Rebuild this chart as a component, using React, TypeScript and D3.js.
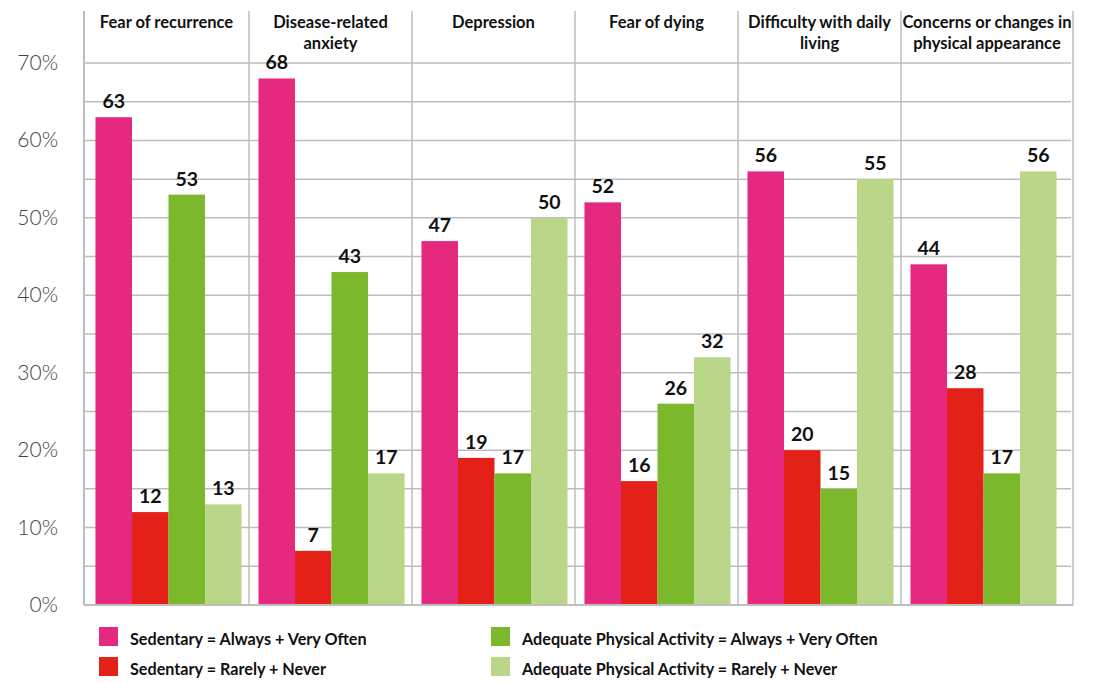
import React from "react";
import * as d3 from "d3";

const categories: string[][] = [
  ["Fear of recurrence"],
  ["Disease-related", "anxiety"],
  ["Depression"],
  ["Fear of dying"],
  ["Difficulty with daily", "living"],
  ["Concerns or changes in", "physical appearance"],
];

const seriesNames = [
  "Sedentary = Always + Very Often",
  "Sedentary = Rarely + Never",
  "Adequate Physical Activity = Always + Very Often",
  "Adequate Physical Activity = Rarely + Never",
];

const sedentaryAlways = [63, 68, 47, 52, 56, 44];
const sedentaryRarely = [12, 7, 19, 16, 20, 28];
const activeAlways = [53, 43, 17, 26, 15, 17];
const activeRarely = [13, 17, 50, 32, 55, 56];

const seriesValues = [sedentaryAlways, sedentaryRarely, activeAlways, activeRarely];
const colors = ["#E5297E", "#E32118", "#7BB82C", "#B9D689"];

const yTicks = [0, 10, 20, 30, 40, 50, 60, 70];
const gridTicks = [5, 10, 15, 20, 25, 30, 35, 40, 45, 50, 55, 60, 65, 70];

const W = 1093;
const H = 683;
const frameLeft = 84;
const frameRight = 1073;
const frameTop = 11;

export default function App() {
  const y = d3.scaleLinear().domain([0, 70]).range([605, 63]);
  const catIdx = categories.map((_, i) => String(i));
  const x = d3
    .scaleBand<string>()
    .domain(catIdx)
    .range([87, 1065])
    .paddingInner(0.104)
    .paddingOuter(0.052);
  const xs = d3
    .scaleBand<string>()
    .domain(seriesNames)
    .range([0, x.bandwidth()])
    .padding(0);

  const r0 = x.range()[0];
  const step = x.step();
  const dividers = d3.range(1, categories.length).map((i) => r0 + i * step - 1);
  const bounds = [frameLeft, ...dividers, frameRight];

  const grid = "#BDBDBD";
  const font = "Lato, 'Open Sans', sans-serif";

  return (
    <svg
      width={W}
      height={H}
      style={{ position: "absolute", left: 0, top: 0, background: "#fff" }}
    >
      {gridTicks.map((t) => (
        <line
          key={"g" + t}
          x1={frameLeft}
          x2={frameRight - 2}
          y1={y(t)}
          y2={y(t)}
          stroke={grid}
          strokeWidth={1.5}
        />
      ))}
      {bounds.map((b, i) => (
        <line
          key={"v" + i}
          x1={b}
          x2={b}
          y1={frameTop}
          y2={y(0)}
          stroke={grid}
          strokeWidth={1.5}
        />
      ))}
      {categories.map((_, ci) =>
        seriesNames.map((s, si) => {
          const v = seriesValues[si][ci];
          const bx = (x(String(ci)) as number) + (xs(s) as number);
          return (
            <rect
              key={"b" + ci + "-" + si}
              x={bx}
              y={y(v)}
              width={xs.bandwidth()}
              height={y(0) - y(v)}
              fill={colors[si]}
            />
          );
        })
      )}
      {categories.map((_, ci) =>
        seriesNames.map((s, si) => {
          const v = seriesValues[si][ci];
          const bx = (x(String(ci)) as number) + (xs(s) as number) + xs.bandwidth() / 2;
          return (
            <text
              key={"l" + ci + "-" + si}
              x={bx}
              y={y(v) - 9}
              textAnchor="middle"
              fontFamily={font}
              fontWeight={700}
              fontSize={19.5}
              fill="#111"
            >
              {v}
            </text>
          );
        })
      )}
      <line x1={frameLeft} x2={frameLeft} y1={frameTop} y2={y(0)} stroke={grid} strokeWidth={2} />
      <line x1={frameLeft} x2={frameRight} y1={y(0)} y2={y(0)} stroke={grid} strokeWidth={2} />
      {yTicks.map((t) => (
        <text
          key={"y" + t}
          x={58}
          y={y(t) + 7}
          textAnchor="end"
          fontFamily={font}
          fontWeight={300}
          fontSize={21}
          fill="#444"
        >
          {t + "%"}
        </text>
      ))}
      {categories.map((lines, ci) => {
        const cx = (bounds[ci] + bounds[ci + 1]) / 2;
        return (
          <text
            key={"h" + ci}
            textAnchor="middle"
            fontFamily={font}
            fontWeight={700}
            fontSize={16.5}
            fill="#111"
          >
            {lines.map((ln, li) => (
              <tspan key={li} x={cx} y={28 + li * 21}>
                {ln}
              </tspan>
            ))}
          </text>
        );
      })}
      {seriesNames.map((s, si) => {
        const col = si < 2 ? 0 : 1;
        const row = si % 2;
        const lx = col === 0 ? 99 : 491;
        const ly = 627 + row * 30;
        return (
          <g key={"lg" + si}>
            <rect x={lx} y={ly} width={19} height={19} fill={colors[si]} />
            <text
              x={lx + 31}
              y={ly + 18}
              fontFamily={font}
              fontWeight={700}
              fontSize={16.2}
              fill="#111"
            >
              {s}
            </text>
          </g>
        );
      })}
    </svg>
  );
}
